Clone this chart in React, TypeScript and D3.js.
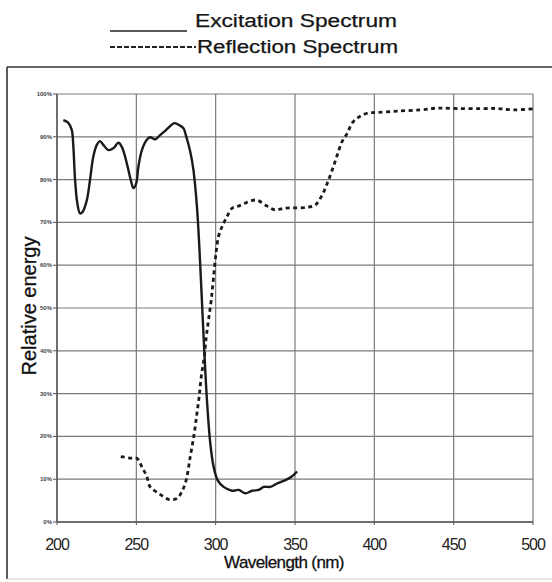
import React from "react";
import * as d3 from "d3";

const xTicks = [200, 250, 300, 350, 400, 450, 500];
const yTicks = [0, 10, 20, 30, 40, 50, 60, 70, 80, 90, 100];
const yTickLabels = ["0%", "10%", "20%", "30%", "40%", "50%", "60%", "70%", "80%", "90%", "100%"];

const excitationWl = [204, 207, 209.3, 210.3, 211.4, 212.8, 214.5, 216.2, 218.8, 220.8, 222.9, 225.1, 227.1, 229.2, 232.4, 235.5, 238.7, 240.8, 244, 246.5, 248.2, 249.9, 251.3, 253.5, 256.6, 258.7, 261.9, 265, 268.2, 271.3, 273.9, 276.6, 279.7, 281.2, 284, 286, 288.2, 289.8, 291.3, 292.8, 294.5, 296.6, 298.7, 301.2, 305, 310.3, 314.5, 318.7, 322.9, 327.1, 330.3, 334.5, 338.7, 344, 348.2, 351.3];
const excitationVal = [93.9, 93.3, 91.6, 87.7, 79.9, 74.5, 72.1, 72.5, 75.2, 79.9, 85.4, 88.1, 89.0, 88.1, 86.9, 87.3, 88.6, 87.7, 83.8, 79.9, 78.0, 79.1, 83.0, 86.9, 89.3, 89.9, 89.4, 90.4, 91.4, 92.5, 93.2, 92.8, 92.0, 90.4, 86.5, 82.2, 73.7, 63.6, 51.9, 40.2, 28.5, 18.4, 12.9, 9.8, 8.2, 7.3, 7.5, 6.7, 7.3, 7.5, 8.2, 8.2, 9.0, 9.8, 10.7, 11.8];

const reflectionWl = [240.2, 247.2, 250.3, 253.5, 256.6, 258.7, 264, 270.3, 275.6, 278.7, 281.4, 284, 286.5, 288.2, 289.6, 290.9, 292.8, 294.1, 295.5, 297.2, 298.7, 300.2, 301.8, 304, 307.1, 310.3, 313.4, 317.6, 321.8, 326, 332.4, 337.6, 342.9, 349.2, 357.6, 362.9, 367.1, 370.3, 373.4, 376.6, 379.7, 382.9, 386, 390.2, 395.5, 401.8, 414.4, 429.2, 439.7, 452.3, 467, 477.6, 488.1, 501.8];
const reflectionVal = [15.3, 14.9, 14.9, 12.9, 10.6, 8.2, 6.7, 5.3, 5.5, 7.1, 9.8, 15.3, 20.7, 25.4, 29.3, 33.9, 38.6, 43.3, 47.2, 51.9, 57.3, 62.8, 66.7, 69.0, 71.3, 73.3, 73.7, 74.3, 75.0, 75.2, 73.8, 72.9, 73.3, 73.4, 73.5, 74.1, 76.4, 79.1, 82.2, 85.7, 88.9, 90.8, 93.2, 94.6, 95.5, 95.7, 96.0, 96.3, 96.7, 96.6, 96.6, 96.6, 96.3, 96.6];

const legendLabels = ["Excitation Spectrum", "Reflection Spectrum"];

export default function App() {
  const x = d3.scaleLinear().domain([200, 500]).range([57, 533]);
  const y = d3.scaleLinear().domain([0, 100]).range([522, 94]);
  const line = d3
    .line<[number, number]>()
    .x((d) => x(d[0]))
    .y((d) => y(d[1]))
    .curve(d3.curveCatmullRom.alpha(0.5));
  const exc = excitationWl.map((w, i) => [w, excitationVal[i]] as [number, number]);
  const ref = reflectionWl.map((w, i) => [w, reflectionVal[i]] as [number, number]);
  const font = "Arial, 'Liberation Sans', sans-serif";
  const grid = "#7a7a7a";

  return (
    <svg
      width={552}
      height={582}
      style={{ position: "absolute", left: 0, top: 0, background: "#fff" }}
      fontFamily={font}
    >
      <rect x={0} y={0} width={552} height={582} fill="#fff" />
      {/* legend */}
      <line x1={110} x2={187} y1={31} y2={31} stroke="#222" strokeWidth={1.6} />
      <text x={195} y={27} fontSize={18} fill="#151515" stroke="#151515" strokeWidth={0.25} textLength={202} lengthAdjust="spacingAndGlyphs">
        {legendLabels[0]}
      </text>
      <line x1={110} x2={196} y1={47} y2={47} stroke="#222" strokeWidth={2} strokeDasharray="5,2" />
      <text x={197} y={53} fontSize={18} fill="#151515" stroke="#151515" strokeWidth={0.25} textLength={201} lengthAdjust="spacingAndGlyphs">
        {legendLabels[1]}
      </text>

      {/* outer frame */}
      <line x1={7} x2={560} y1={67} y2={67} stroke="#333" strokeWidth={1.6} />
      <line x1={7} x2={7} y1={67} y2={579} stroke="#333" strokeWidth={1.6} />
      <line x1={7} x2={560} y1={579} y2={579} stroke="#ccc" strokeWidth={1} />

      {/* gridlines */}
      {yTicks.map((t) => (
        <line key={"gy" + t} x1={x(200)} x2={x(500)} y1={y(t)} y2={y(t)} stroke={grid} strokeWidth={1.2} />
      ))}
      {xTicks.map((t) => (
        <line key={"gx" + t} x1={x(t)} x2={x(t)} y1={y(0)} y2={y(100)} stroke={grid} strokeWidth={1.2} />
      ))}
      <line x1={x(200)} x2={x(200)} y1={y(0)} y2={y(100)} stroke="#555" strokeWidth={1.4} />
      <line x1={x(200)} x2={x(500)} y1={y(0)} y2={y(0)} stroke="#555" strokeWidth={1.4} />

      {/* y ticks */}
      {yTicks.map((t, i) => (
        <g key={"yt" + t}>
          <line x1={x(200) - 4} x2={x(200)} y1={y(t)} y2={y(t)} stroke="#555" strokeWidth={1} />
          <text x={x(200) - 5} y={y(t) + 2} fontSize={6} fontWeight="bold" textAnchor="end" fill="#444">
            {yTickLabels[i]}
          </text>
        </g>
      ))}
      {/* x ticks */}
      {xTicks.map((t) => (
        <g key={"xt" + t}>
          <line x1={x(t)} x2={x(t)} y1={y(0)} y2={y(0) + 3} stroke="#555" strokeWidth={1} />
          <text x={x(t)} y={550} fontSize={16} textAnchor="middle" fill="#222" letterSpacing={-1}>
            {t}
          </text>
        </g>
      ))}

      {/* axis titles */}
      <text x={284} y={568} fontSize={17} textAnchor="middle" fill="#111" stroke="#111" strokeWidth={0.3} letterSpacing={-0.6}>
        Wavelength (nm)
      </text>
      <text
        transform={`translate(36,306) rotate(-90)`}
        fontSize={20}
        textAnchor="middle"
        fill="#111"
        stroke="#111"
        strokeWidth={0.3}
      >
        Relative energy
      </text>

      {/* series */}
      <path d={line(exc) || ""} fill="none" stroke="#1a1a1a" strokeWidth={2.4} strokeLinejoin="round" />
      <path d={line(ref) || ""} fill="none" stroke="#1a1a1a" strokeWidth={2.8} strokeDasharray="4,3.5" />
    </svg>
  );
}
